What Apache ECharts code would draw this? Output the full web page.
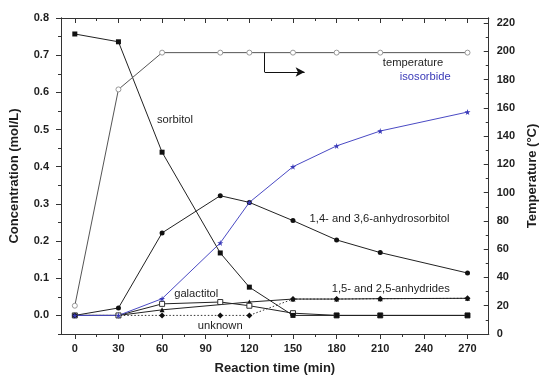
<!DOCTYPE html>
<html>
<head>
<meta charset="utf-8">
<script src="https://cdn.jsdelivr.net/npm/echarts@6/dist/echarts.min.js"></script>
<style>
  html, body { margin: 0; padding: 0; background: #fff; }
  #chart { width: 547px; height: 383px; }
</style>
</head>
<body>
<div id="chart"></div>
<script>
// Sampling times (min)
const times = [0, 30, 60, 100, 120, 150, 180, 210, 270];

// Concentrations (mol/L)
const sorbitol        = [0.757, 0.736, 0.439, 0.168, 0.076, 0.000, 0.000, 0.000, 0.000];
const anhydrosorbitol = [0.000, 0.020, 0.222, 0.322, 0.304, 0.255, 0.203, 0.169, 0.114];
const isosorbide      = [0.000, 0.000, 0.045, 0.195, 0.304, 0.400, 0.456, 0.496, 0.547];
const galactitol      = [0.000, 0.000, 0.031, 0.036, 0.026, 0.006, 0.000, 0.000, 0.000];
const anhydrides      = [0.000, 0.000, 0.015, null,  0.036, 0.044, 0.044, 0.045, 0.046];
const unknown         = [0.000, 0.000, 0.000, 0.000, 0.000, 0.044, 0.044, 0.045, 0.046];

// Reactor temperature (°C)
const temperature     = [20, 173, 199, 199, 199, 199, 199, 199, 199];

// Axis tick values
const xMajor = [0, 30, 60, 90, 120, 150, 180, 210, 240, 270];
const xMinor = [15, 45, 75, 105, 135, 165, 195, 225, 255];
const cMajor = [0, 0.1, 0.2, 0.3, 0.4, 0.5, 0.6, 0.7, 0.8];
const cMinor = [-0.05, 0.05, 0.15, 0.25, 0.35, 0.45, 0.55, 0.65, 0.75];
const tMajor = [0, 20, 40, 60, 80, 100, 120, 140, 160, 180, 200, 220];
const tMinor = [10, 30, 50, 70, 90, 110, 130, 150, 170, 190, 210];

const pair = (ys) => times.map((t, i) => [t, ys[i]]);

const FONT = '"Liberation Sans", Arial, sans-serif';
const INK = '#1e1e1e';
const AXIS = '#333';

const X_MIN = -9.5, X_MAX = 284.6;
const C_MIN = -0.05, C_MAX = 0.8;
const T_MIN = 0, T_MAX = 223.5;

function xAxisDef(pos, ticks, len, inside, labels) {
  return {
    type: 'value', position: pos, min: X_MIN, max: X_MAX,
    axisLine: { show: true, onZero: false, lineStyle: { color: AXIS, width: 1 } },
    axisTick: { show: true, customValues: ticks, length: len, inside: inside, lineStyle: { color: AXIS } },
    axisLabel: labels ? {
      show: true, customValues: ticks, margin: 9, color: INK,
      fontFamily: FONT, fontWeight: 'bold', fontSize: 11
    } : { show: false },
    splitLine: { show: false }
  };
}

function yAxisDef(pos, min, max, ticks, len, inside, labels, fmt) {
  return {
    type: 'value', position: pos, min: min, max: max,
    axisLine: { show: true, onZero: false, lineStyle: { color: AXIS, width: 1 } },
    axisTick: { show: true, customValues: ticks, length: len, inside: inside, lineStyle: { color: AXIS } },
    axisLabel: labels ? {
      show: true, customValues: ticks, color: INK, margin: pos === 'left' ? 12 : 8,
      fontFamily: FONT, fontWeight: 'bold', fontSize: 11, formatter: fmt
    } : { show: false },
    splitLine: { show: false }
  };
}

const xAxes = [
  Object.assign(xAxisDef('bottom', xMajor, 5, false, true), {
    name: 'Reaction time (min)', nameLocation: 'middle', nameGap: 28,
    nameTextStyle: { fontFamily: FONT, fontWeight: 'bold', fontSize: 13, color: INK }
  }),
  xAxisDef('bottom', xMinor, 3, false, false),
  xAxisDef('top', xMajor, 5, true, false),
  xAxisDef('top', xMinor, 3, true, false)
];

const yAxes = [
  Object.assign(yAxisDef('left', C_MIN, C_MAX, cMajor, 5, false, true, v => v.toFixed(1)), {
    name: 'Concentration (mol/L)', nameLocation: 'middle', nameGap: 40,
    nameTextStyle: { fontFamily: FONT, fontWeight: 'bold', fontSize: 13, color: INK }
  }),
  Object.assign(yAxisDef('right', T_MIN, T_MAX, tMajor, 5, true, true, v => String(Math.round(v))), {
    name: 'Temperature (°C)', nameLocation: 'middle', nameGap: 36, nameRotate: 90,
    nameTextStyle: { fontFamily: FONT, fontWeight: 'bold', fontSize: 13, color: INK }
  }),
  yAxisDef('left', C_MIN, C_MAX, cMinor, 3, false, false),
  yAxisDef('right', T_MIN, T_MAX, tMinor, 3, true, false)
];

const STAR = 'path://M50,0 L61,35 L98,35 L68,57 L79,91 L50,70 L21,91 L32,57 L2,35 L39,35 Z';

// Inline series annotation anchored at a data coordinate (left edge, vertical middle)
function note(text, x, y, color) {
  return {
    silent: true, symbol: 'circle', symbolSize: 0, animation: false,
    data: [{ coord: [x, y] }],
    label: {
      show: true, position: 'right', distance: 0, formatter: text,
      color: color || INK, fontFamily: FONT, fontSize: 11.2
    }
  };
}

function line(name, ys, opts) {
  return Object.assign({
    name: name, type: 'line', data: pair(ys), xAxisIndex: 0, yAxisIndex: 0,
    connectNulls: true, animation: false, z: 3,
    lineStyle: { color: '#222', width: 1 },
    itemStyle: { color: '#111', borderWidth: 0 },
    symbolSize: 5, showSymbol: true
  }, opts);
}

const option = {
  backgroundColor: '#fff',
  grid: { left: 60, right: 55, top: 18, bottom: 49, containLabel: false },
  xAxis: xAxes,
  yAxis: yAxes,
  series: [
    line('unknown', unknown, {
      symbol: 'diamond', symbolSize: 6,
      lineStyle: { color: '#333', width: 1, type: [1.5, 2] },
      markPoint: note('unknown', 84.6, -0.028)
    }),
    line('1,5- and 2,5-anhydrides', anhydrides, {
      symbol: 'triangle', symbolSize: 5,
      markPoint: note('1,5- and 2,5-anhydrides', 176.6, 0.072)
    }),
    line('galactitol', galactitol, {
      symbol: 'rect', symbolSize: 5,
      itemStyle: { color: '#fff', borderColor: '#333', borderWidth: 1 },
      markPoint: note('galactitol', 68.3, 0.058)
    }),
    line('1,4- and 3,6-anhydrosorbitol', anhydrosorbitol, {
      symbol: 'circle', symbolSize: 5,
      markPoint: note('1,4- and 3,6-anhydrosorbitol', 161.4, 0.260)
    }),
    line('isosorbide', isosorbide, {
      symbol: STAR, symbolSize: 6,
      lineStyle: { color: '#4a4ac4', width: 1 },
      itemStyle: { color: '#3a3ab8' },
      markPoint: note('isosorbide', 223.4, 0.641, '#3a3ab8')
    }),
    line('sorbitol', sorbitol, {
      symbol: 'rect', symbolSize: 5,
      markPoint: note('sorbitol', 56.5, 0.526)
    }),
    line('temperature', temperature, {
      yAxisIndex: 1, symbol: 'circle', symbolSize: 5,
      lineStyle: { color: '#555', width: 1 },
      itemStyle: { color: '#fff', borderColor: '#999', borderWidth: 1 },
      markPoint: note('temperature', 211.8, 191.7),
      markLine: {
        silent: true, animation: false,
        lineStyle: { color: '#111', width: 1, type: 'solid' },
        label: { show: false },
        symbolSize: [7, 9],
        data: [
          [{ coord: [130.5, 199], symbol: 'none' }, { coord: [130.5, 185.3], symbol: 'none' }],
          [{ coord: [130.5, 185.3], symbol: 'none' }, { coord: [158, 185.3], symbol: 'arrow' }]
        ]
      }
    })
  ]
};

const chart = echarts.init(document.getElementById('chart'), null, { renderer: 'canvas' });
chart.setOption(option);
</script>
</body>
</html>
